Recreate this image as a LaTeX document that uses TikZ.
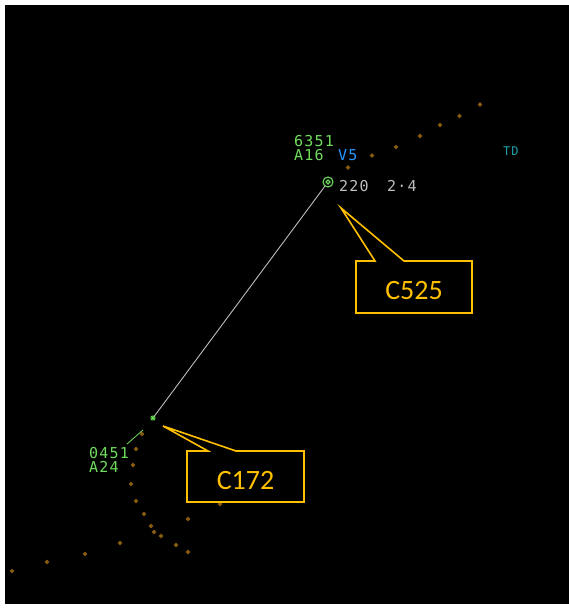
\documentclass[tikz,border=0pt]{standalone}
\usepackage{fontspec}
\newfontfamily\radarfont[LetterSpace=8]{DejaVu Sans Mono}
\newfontfamily\calloutfont{Carlito}
\definecolor{radargreen}{RGB}{110,222,90}
\definecolor{radarblue}{RGB}{40,150,255}
\definecolor{radarteal}{RGB}{30,160,170}
\definecolor{radargray}{RGB}{190,190,190}
\definecolor{trackorange}{RGB}{135,90,15}
\definecolor{calloutgold}{RGB}{255,192,0}
\usetikzlibrary{shapes.geometric,calc}
\tikzset{
  lbl/.style={inner sep=0pt, anchor=west, font=\radarfont\fontsize{15}{15}\selectfont},
  trk/.style={fill=trackorange, draw=none, diamond, inner sep=0pt, minimum size=5pt},
  callout/.style={draw=calloutgold, line width=1.6pt, fill=black, line join=miter},
  ctext/.style={text=calloutgold, font=\calloutfont\fontsize{28}{28}\selectfont, inner sep=0pt}
}
\begin{document}
\begin{tikzpicture}[x=1pt,y=-1pt]
\useasboundingbox (0,0) rectangle (569,608);
\fill[white] (0,0) rectangle (569,608);
\fill[black] (5,5) rectangle (569,604);

% track dots
\foreach \p [count=\i] in {(480,104.5),(459.5,116),(440,125),(420,136),(396,147),(372,155.5),(348,167.5),
  (142,434),(136,449),(133,465),(131,484),(136,501),(144,514),(151,526),(154,532),(161,536),(176,545),(188,552),
  (188,519),(220,504),(120,543),(85,554),(47,562),(12,571)}
  \node[trk] (t\i) at \p {};

% aircraft
\coordinate (acA) at (328,182);
\coordinate (acB) at (153,418);
\draw[radargray, line width=0.9pt] (acA) -- (acB);
\draw[radargreen, line width=1.1pt, fill=black] (acA) circle (5);
\fill[radargreen] (acA) circle (2.6);
\draw[black!60!radargreen, line width=0.5pt] ($(acA)+(-2,-2)$) -- ($(acA)+(2,2)$) ($(acA)+(-2,2)$) -- ($(acA)+(2,-2)$);
\draw[radargreen, line width=0.9pt] ($(acB)+(-2.8,0)$) -- ($(acB)+(2.8,0)$)
  ($(acB)+(-2,-2)$) -- ($(acB)+(2,2)$) ($(acB)+(-2,2)$) -- ($(acB)+(2,-2)$) ($(acB)+(0,-2.8)$) -- ($(acB)+(0,2.8)$);
\coordinate (ldA) at (143,430);
\coordinate (ldB) at (127,444);
\draw[radargreen, line width=0.8pt] (ldA) -- (ldB);

% labels
\node[lbl, text=radargreen] (sq1) at (294,141) {6351};
\node[lbl, text=radargreen] (al1) at (294,155.5) {A16};
\node[lbl, text=radarblue] (v1) at (338,155.5) {V5};
\node[lbl, text=radargray] (sp1) at (339,186) {220};
\node[lbl, text=radargray] (rt1) at (387,186) {2·4};
\node[lbl, text=radarteal, font=\radarfont\fontsize{12}{12}\selectfont] (td) at (503,151) {TD};
\node[lbl, text=radargreen] (sq2) at (89,453) {0451};
\node[lbl, text=radargreen] (al2) at (89,467) {A24};

% callouts
\coordinate (tipA) at (341,208);
\coordinate (tipB) at (163,426);
\draw[callout] (356,261) -- (375,261) -- (tipA) -- (404,261) -- (472,261) -- (472,313) -- (356,313) -- cycle;
\node[ctext] (cA) at (414,291) {C525};
\draw[callout] (187,451) -- (208,451) -- (tipB) -- (236,451) -- (304,451) -- (304,502) -- (187,502) -- cycle;
\node[ctext] (cB) at (245.5,481) {C172};
\end{tikzpicture}
\end{document}
